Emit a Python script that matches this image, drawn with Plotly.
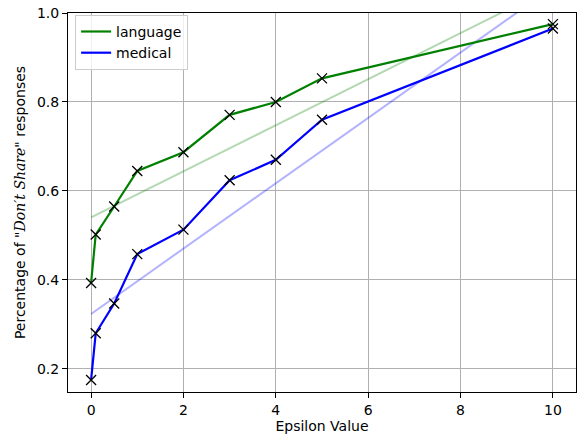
import numpy as np
import plotly.graph_objects as go

epsilon = [0, 0.1, 0.5, 1, 2, 3, 4, 5, 10]
language = [0.393, 0.502, 0.565, 0.645, 0.687, 0.771, 0.800, 0.853, 0.975]
medical = [0.175, 0.280, 0.347, 0.458, 0.513, 0.624, 0.670, 0.760, 0.965]

series = [
    ("language", language, "green", "rgba(0,128,0,0.3)"),
    ("medical", medical, "blue", "rgba(0,0,255,0.3)"),
]

fig = go.Figure()

# linear trend of each series, drawn faintly
trend_x = np.array([0, 10])
for name, vals, color, faint in series:
    slope, icpt = np.polyfit(epsilon, vals, 1)
    fig.add_trace(go.Scatter(
        x=trend_x, y=slope * trend_x + icpt, mode="lines",
        line=dict(color=faint, width=2), showlegend=False, hoverinfo="skip",
    ))

for name, vals, color, faint in series:
    fig.add_trace(go.Scatter(
        x=epsilon, y=vals, mode="lines", name=name,
        line=dict(color=color, width=2.2),
    ))
    fig.add_trace(go.Scatter(
        x=epsilon, y=vals, mode="markers", showlegend=False,
        marker=dict(symbol="x-thin", size=10, line=dict(color="black", width=1.3)),
    ))

axis_style = dict(
    showline=True, linecolor="black", linewidth=1, mirror=True,
    ticks="outside", ticklen=5, tickcolor="black",
    showgrid=True, gridcolor="#b0b0b0", gridwidth=1, zeroline=False,
    tickfont=dict(size=14, color="black"),
)

fig.update_layout(
    width=580, height=439,
    margin=dict(l=68, r=4, t=13, b=47),
    plot_bgcolor="white", paper_bgcolor="white",
    font=dict(family="DejaVu Sans", size=14, color="black"),
    xaxis=dict(range=[-0.5, 10.5], tickvals=[0, 2, 4, 6, 8, 10],
               title=dict(text="Epsilon Value", standoff=3, font=dict(size=14)),
               **axis_style),
    yaxis=dict(range=[0.148, 1.0], tickvals=[0.2, 0.4, 0.6, 0.8, 1.0],
               tickformat=".1f",
               title=dict(text='Percentage of "<i><span style="font-family:DejaVu Serif">Don′t Share</span></i>" responses',
                          standoff=8, font=dict(size=14)),
               **axis_style),
    legend=dict(x=0.014, y=0.995, xanchor="left", yanchor="top",
                bordercolor="#cccccc", borderwidth=1, bgcolor="rgba(255,255,255,0.8)",
                font=dict(size=14), itemwidth=30, tracegroupgap=0),
)

fig.write_html("out.html", config={"displayModeBar": False},
               post_script="document.body.style.margin='0';")
